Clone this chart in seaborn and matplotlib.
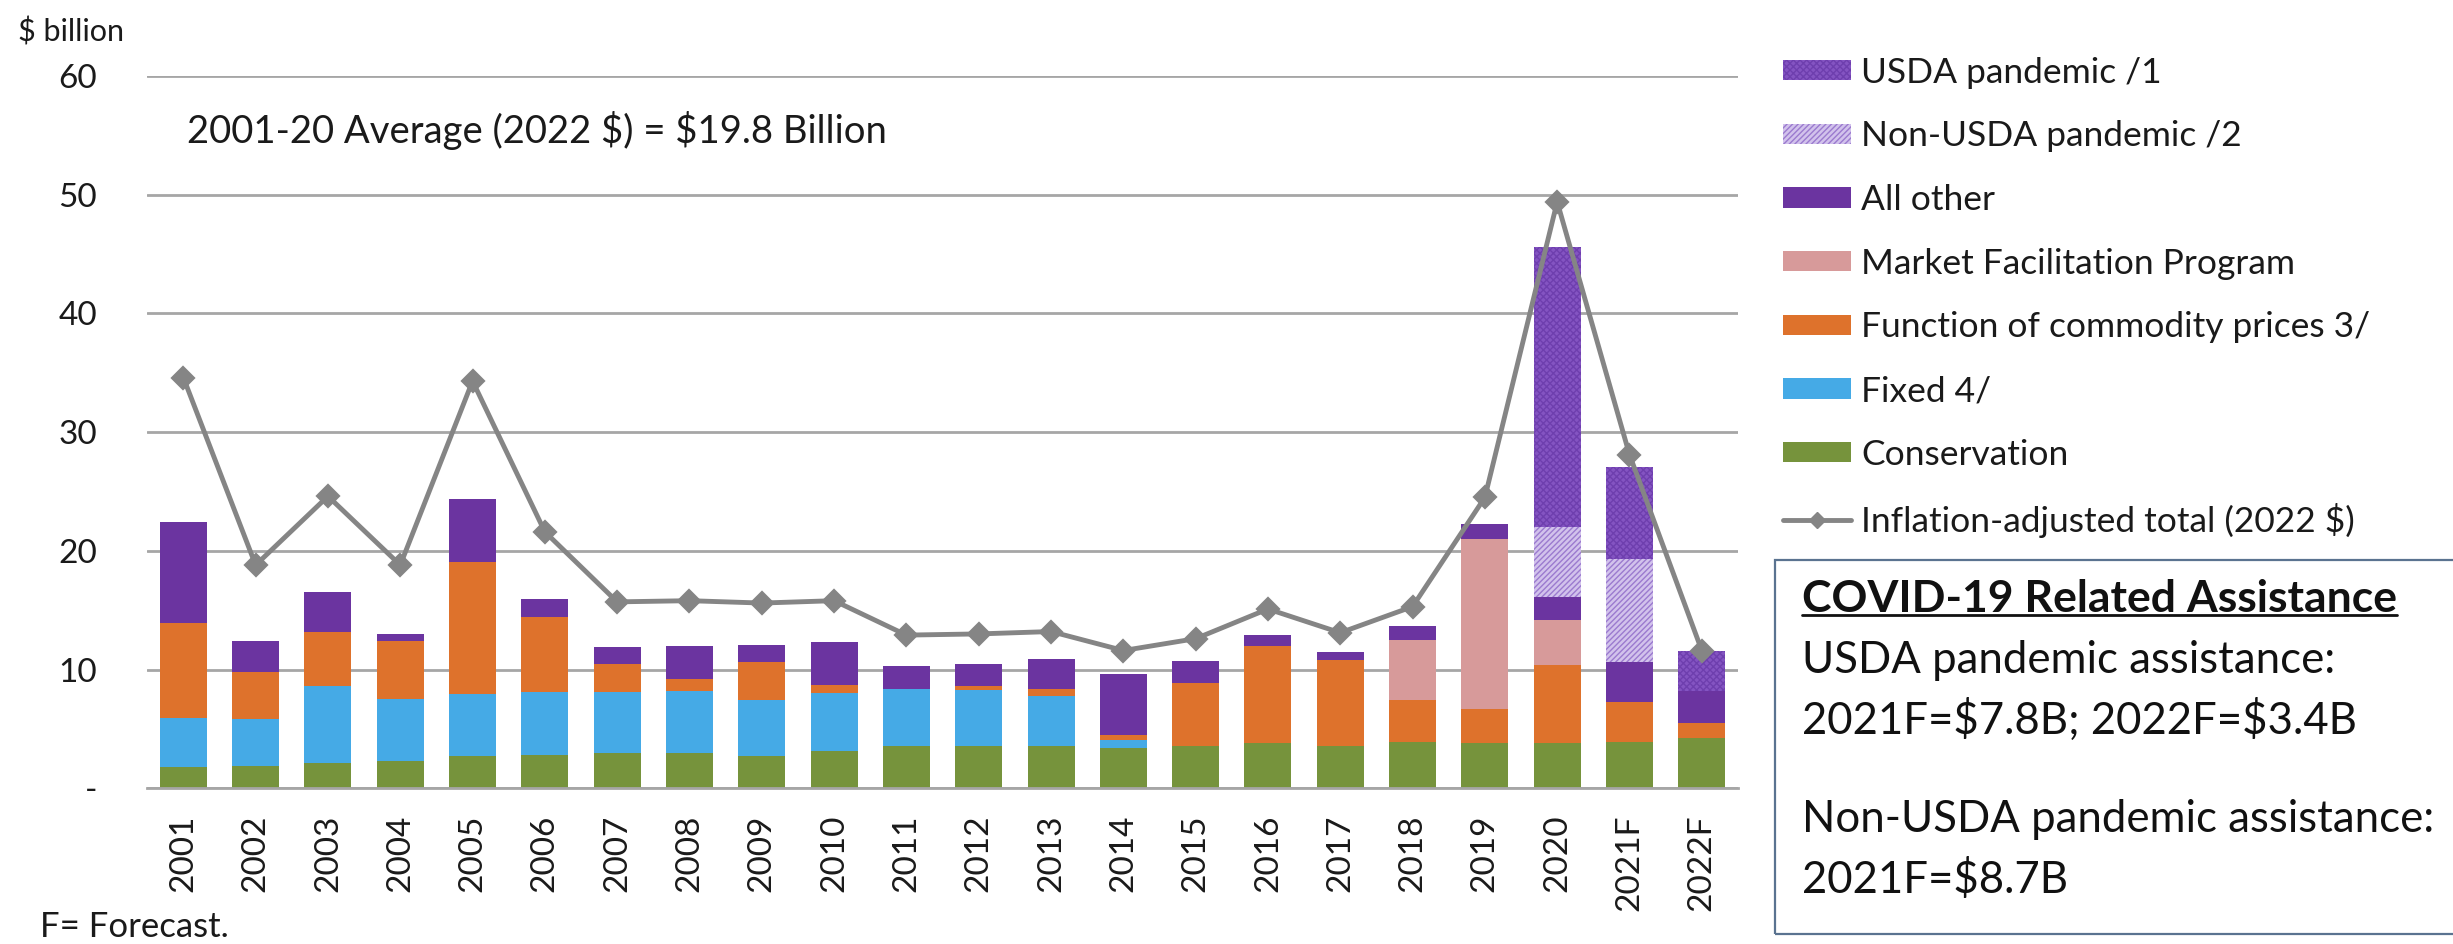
import matplotlib
matplotlib.use("Agg")
import matplotlib.pyplot as plt
from matplotlib.patches import Patch, Rectangle
from matplotlib.lines import Line2D
import seaborn as sns
import numpy as np

# data, $ billion
years = ['2001', '2002', '2003', '2004', '2005', '2006', '2007', '2008', '2009', '2010', '2011',
         '2012', '2013', '2014', '2015', '2016', '2017', '2018', '2019', '2020', '2021F', '2022F']
conservation = [1.8, 1.9, 2.1, 2.3, 2.7, 2.8, 3.0, 3.0, 2.7, 3.1, 3.6, 3.6, 3.6, 3.4, 3.6, 3.8, 3.6, 3.9, 3.8, 3.8, 3.9, 4.2]
fixed = [4.1, 3.9, 6.5, 5.2, 5.2, 5.3, 5.1, 5.2, 4.7, 4.9, 4.8, 4.7, 4.2, 0.7, 0, 0, 0, 0, 0, 0, 0, 0]
func_prices = [8.0, 4.0, 4.6, 4.9, 11.2, 6.3, 2.4, 1.0, 3.2, 0.7, 0, 0.3, 0.6, 0.4, 5.3, 8.2, 7.2, 3.5, 2.9, 6.6, 3.4, 1.3]
mfp = [0, 0, 0, 0, 0, 0, 0, 0, 0, 0, 0, 0, 0, 0, 0, 0, 0, 5.1, 14.3, 3.8, 0, 0]
all_other = [8.5, 2.6, 3.3, 0.6, 5.3, 1.5, 1.4, 2.8, 1.5, 3.6, 1.9, 1.9, 2.5, 5.1, 1.8, 0.9, 0.7, 1.2, 1.3, 1.9, 3.3, 2.7]
non_usda = [0, 0, 0, 0, 0, 0, 0, 0, 0, 0, 0, 0, 0, 0, 0, 0, 0, 0, 0, 5.9, 8.7, 0]
usda = [0, 0, 0, 0, 0, 0, 0, 0, 0, 0, 0, 0, 0, 0, 0, 0, 0, 0, 0, 23.6, 7.8, 3.4]
infl_total = [34.6, 18.8, 24.6, 18.8, 34.3, 21.6, 15.7, 15.8, 15.6, 15.8, 12.9, 13.0, 13.2, 11.6,
              12.6, 15.1, 13.1, 15.3, 24.5, 49.4, 28.1, 11.6]

sns.set_theme(style="white")
plt.rcParams['font.family'] = ['Lato', 'DejaVu Sans']
plt.rcParams['text.parse_math'] = False
plt.rcParams['hatch.linewidth'] = 1.0

fig = plt.figure(figsize=(24.53, 9.44), dpi=100)
ax = fig.add_axes([0.060, 0.165, 0.6485, 0.7545])

# layers bottom -> top: (label, values, face, hatch, hatch colour)
layers = [
    ('Conservation', conservation, '#76933C', None, '#76933C'),
    ('Fixed 4/', fixed, '#45AAE6', None, '#45AAE6'),
    ('Function of commodity prices 3/', func_prices, '#DE722C', None, '#DE722C'),
    ('Market Facilitation Program', mfp, '#D79A9A', None, '#D79A9A'),
    ('All other', all_other, '#6B34A0', None, '#6B34A0'),
    ('Non-USDA pandemic /2', non_usda, '#D2C2EC', '//////', '#9B7ACF'),
    ('USDA pandemic /1', usda, '#8454C2', 'xxxxx', '#6E3FAE'),
]
cum = np.cumsum([np.array(l[1]) for l in layers], axis=0)

# draw tallest stack first so lower layers cover it
for i in range(len(layers) - 1, -1, -1):
    name, vals, face, hatch, hcol = layers[i]
    sns.barplot(x=years, y=cum[i], color=face, saturation=1, width=0.65, hatch=hatch,
                edgecolor=hcol, linewidth=0, ax=ax)

sns.pointplot(x=years, y=infl_total, color='#858585', markers='D', linestyles='-',
              markersize=10, linewidth=3.5, ax=ax)

ax.set_xlim(-0.5, 21.5)
ax.set_ylim(0, 60)
ax.set_xlabel('')
ax.set_ylabel('')
ax.set_yticks(range(0, 61, 10))
ax.set_yticklabels(['-', '10', '20', '30', '40', '50', '60'])
ax.yaxis.grid(True, color='#A6A6A6', linewidth=2)
ax.set_axisbelow(True)
for s in ['top', 'right', 'left']:
    ax.spines[s].set_visible(False)
ax.spines['bottom'].set_color('#A6A6A6')
ax.spines['bottom'].set_linewidth(2)
ax.tick_params(axis='y', length=0, pad=36, labelsize=24, labelcolor='#1a1a1a')
ax.tick_params(axis='x', which='major', length=0, pad=19, labelsize=24, labelrotation=90, labelcolor='#1a1a1a')
ax.set_xticks(np.arange(-0.5, 22, 1), minor=True)
ax.tick_params(axis='x', which='minor', length=9, width=2, color='#A6A6A6', direction='out')

fig.text(0.0073, 0.966, '$ billion', fontsize=22, va='center', ha='left', color='#1a1a1a')
fig.text(0.0762, 0.862, '2001-20 Average (2022 $) = $19.8 Billion', fontsize=27.5, va='center', ha='left', color='#1a1a1a')
fig.text(0.0163, 0.018, 'F= Forecast.', fontsize=25, va='center', ha='left', color='#1a1a1a')

handles = []
labels = []
for name, vals, face, hatch, hcol in layers[::-1]:
    handles.append(Patch(facecolor=face, hatch=hatch, edgecolor=hcol, linewidth=0))
    labels.append(name)
handles.append(Line2D([], [], color='#858585', lw=3.5, marker='D', markersize=8))
labels.append('Inflation-adjusted total (2022 $)')
fig.legend(handles, labels, loc='upper left', bbox_to_anchor=(0.727, 0.94), frameon=False,
           fontsize=25.5, handlelength=1.9, handleheight=0.5, handletextpad=0.3,
           labelspacing=0.895, borderpad=0, borderaxespad=0, labelcolor='#1a1a1a')

fig.patches.append(Rectangle((0.7236, 0.0106), 0.29, 0.396, transform=fig.transFigure,
                             facecolor='none', edgecolor='#5A7390', linewidth=1.6))
head = fig.text(0.7346, 0.3655, 'COVID-19 Related Assistance', fontsize=32, fontweight='bold',
                va='center', ha='left', color='#111111')
box_lines = ['USDA pandemic assistance:', '2021F=$7.8B; 2022F=$3.4B',
             'Non-USDA pandemic assistance:', '2021F=$8.7B']
box_y = [0.3008, 0.2373, 0.1324, 0.0678]
for t, y in zip(box_lines, box_y):
    fig.text(0.7346, y, t, fontsize=31.5, va='center', ha='left', color='#111111')

# underline the heading
fig.canvas.draw()
bb = head.get_window_extent().transformed(fig.transFigure.inverted())
fig.add_artist(Line2D([bb.x0, bb.x1], [bb.y0 + 0.004, bb.y0 + 0.004], transform=fig.transFigure,
                      color='#111111', linewidth=2))

fig.savefig('out.png', dpi=100)
